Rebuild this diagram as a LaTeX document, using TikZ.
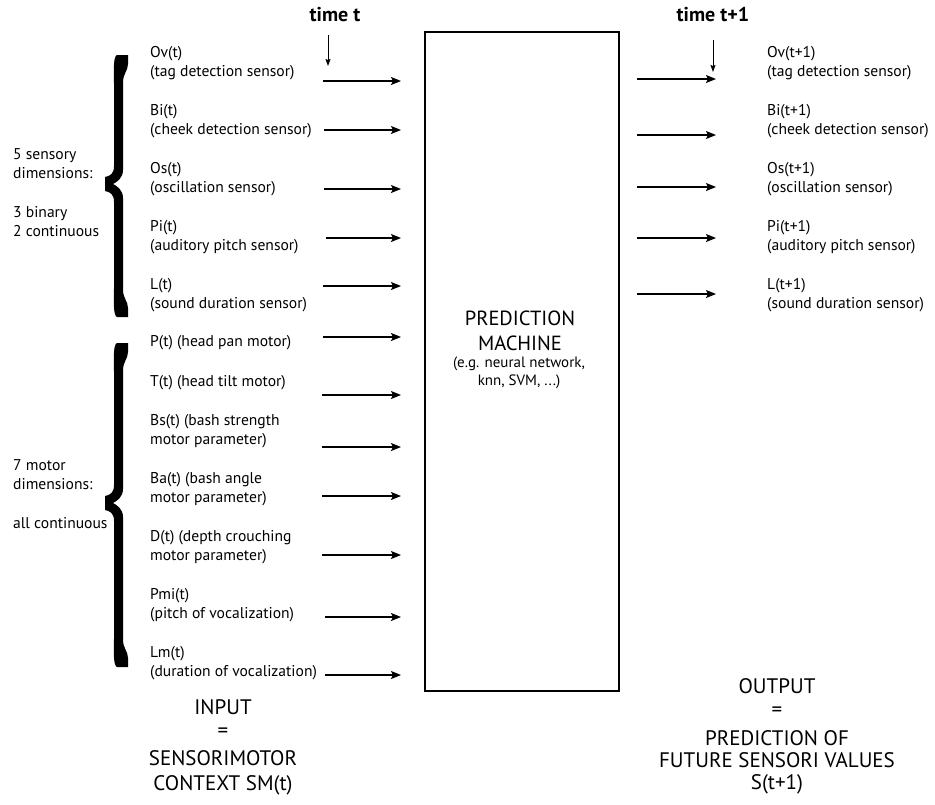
\documentclass[tikz,border=0pt]{standalone}
\usepackage{fontspec}
\setmainfont{PT Sans}
\usetikzlibrary{arrows.meta}
\newcommand{\bracefill}[3]{%
  \fill (128,#1) -- (128,#1+9) .. controls (128,#1+16) and (123,#1+18) .. (123,#1+28)
   -- (123,#2-14) .. controls (123,#2-6) and (117,#2-2) .. (113,#2)
   .. controls (117,#2+2) and (123,#2+6) .. (123,#2+14)
   -- (123,#3-28) .. controls (123,#3-18) and (128,#3-16) .. (128,#3-9)
   -- (128,#3) -- (117,#3) .. controls (113,#3-2) and (114,#3-15) .. (114,#3-28)
   -- (114,#2+18) .. controls (114,#2+10) and (110,#2+8) .. (105,#2+7)
   -- (105,#2-7) .. controls (110,#2-8) and (114,#2-10) .. (114,#2-18)
   -- (114,#1+28) .. controls (114,#1+15) and (113,#1+2) .. (117,#1) -- cycle;}
\begin{document}
\begin{tikzpicture}[x=1pt,y=-1pt,
  lbl/.style={anchor=west,align=left,inner sep=0pt,font=\fontsize{15.6}{19}\selectfont},
  arr/.style={line width=1.3pt,-{Stealth[length=10pt,width=8pt,inset=2pt]}},
  tarr/.style={line width=0.9pt,-{Stealth[length=7pt,width=5pt,inset=1pt]}},
  ttl/.style={inner sep=0pt,font=\fontsize{20}{22}\selectfont\bfseries},
  bigtxt/.style={align=center,inner sep=0pt,font=\fontsize{20.5}{25}\selectfont},
  smalltxt/.style={align=center,inner sep=0pt,font=\fontsize{15}{18}\selectfont},
  cond/.style={inner sep=0pt,font=\fontsize{21}{24}\selectfont},
  box/.style={draw,line width=1.1pt,minimum width=194pt,minimum height=659pt,inner sep=0pt}
]
\useasboundingbox (0,0) rectangle (935,804);
\fill[white] (0,0) rectangle (935,804);

% titles and time arrows
\node[ttl] (tt) at (335,15) {time t};
\node[ttl] (tt1) at (713,15) {time t+1};
\coordinate (ta0) at (328,35);
\coordinate (ta1) at (328,66);
\coordinate (tb0) at (713,40);
\coordinate (tb1) at (713,72);
\draw[tarr] (ta0) -- (ta1);
\draw[tarr] (tb0) -- (tb1);

% prediction machine
\node[box] (pm) at (522,361.5) {};
\node[bigtxt] (pm1) at (520,330.5) {PREDICTION\\MACHINE};
\node[smalltxt] (pm2) at (519,373) {(e.g. neural network,\\knn, SVM, ...)};

% braces
\bracefill{55}{184}{317}
\bracefill{343}{503}{667}

% group labels
\node[lbl] (g1) at (13,164) {5 sensory\\dimensions:};
\node[lbl] (g2) at (13,222) {3 binary\\2 continuous};
\node[lbl] (g3) at (13,474.5) {7 motor\\dimensions:};
\node[lbl] (g4) at (13,523) {all continuous};

% input labels
\node[lbl] (i1) at (150,63) {Ov(t)\\(tag detection sensor)};
\node[lbl] (i2) at (150,121.5) {Bi(t)\\(cheek detection sensor)};
\node[lbl] (i3) at (150,179.5) {Os(t)\\(oscillation sensor)};
\node[lbl] (i4) at (150,237.5) {Pi(t)\\(auditory pitch sensor)};
\node[lbl] (i5) at (150,295.5) {L(t)\\(sound duration sensor)};
\node[lbl] (i6) at (150,343) {P(t) (head pan motor)};
\node[lbl] (i7) at (150,383) {T(t) (head tilt motor)};
\node[lbl] (i8) at (150,431.5) {Bs(t) (bash strength\\motor parameter)};
\node[lbl] (i9) at (150,489.5) {Ba(t) (bash angle\\motor parameter)};
\node[lbl] (i10) at (150,547.5) {D(t) (depth crouching\\motor parameter)};
\node[lbl] (i11) at (150,605.5) {Pmi(t)\\(pitch of vocalization)};
\node[lbl] (i12) at (150,663.5) {Lm(t)\\(duration of vocalization)};

% input arrows
\foreach \n/\xs/\y in {1/323/81,2/324/130,3/324/189,4/326/238,5/323/286,6/323/337,
  7/322/395,8/322/447,9/322/496,10/322/555,11/325/617,12/325/675}{
  \coordinate (ia\n) at (\xs,\y);
  \coordinate (ib\n) at (401,\y);
  \draw[arr] (ia\n) -- (ib\n);
}

% output labels
\node[lbl] (o1) at (767,63) {Ov(t+1)\\(tag detection sensor)};
\node[lbl] (o2) at (767,121.5) {Bi(t+1)\\(cheek detection sensor)};
\node[lbl] (o3) at (767,179.5) {Os(t+1)\\(oscillation sensor)};
\node[lbl] (o4) at (767,237.5) {Pi(t+1)\\(auditory pitch sensor)};
\node[lbl] (o5) at (767,295.5) {L(t+1)\\(sound duration sensor)};

% output arrows
\foreach \n/\y in {1/79,2/135,3/187,4/238,5/294}{
  \coordinate (oa\n) at (637,\y);
  \coordinate (ob\n) at (716,\y);
  \draw[arr] (oa\n) -- (ob\n);
}

% bottom captions
\node[cond] (in1) at (223,707) {INPUT};
\node[cond] (in2) at (223,733) {=};
\node[cond] (in3) at (223,758) {SENSORIMOTOR};
\node[cond] (in4) at (223,785) {CONTEXT SM(t)};
\node[cond] (ou1) at (777,686) {OUTPUT};
\node[cond] (ou2) at (777,712) {=};
\node[cond] (ou3) at (777,738) {PREDICTION OF};
\node[cond] (ou4) at (777,760) {FUTURE SENSORI VALUES};
\node[cond] (ou5) at (777,784) {S(t+1)};
\end{tikzpicture}
\end{document}
